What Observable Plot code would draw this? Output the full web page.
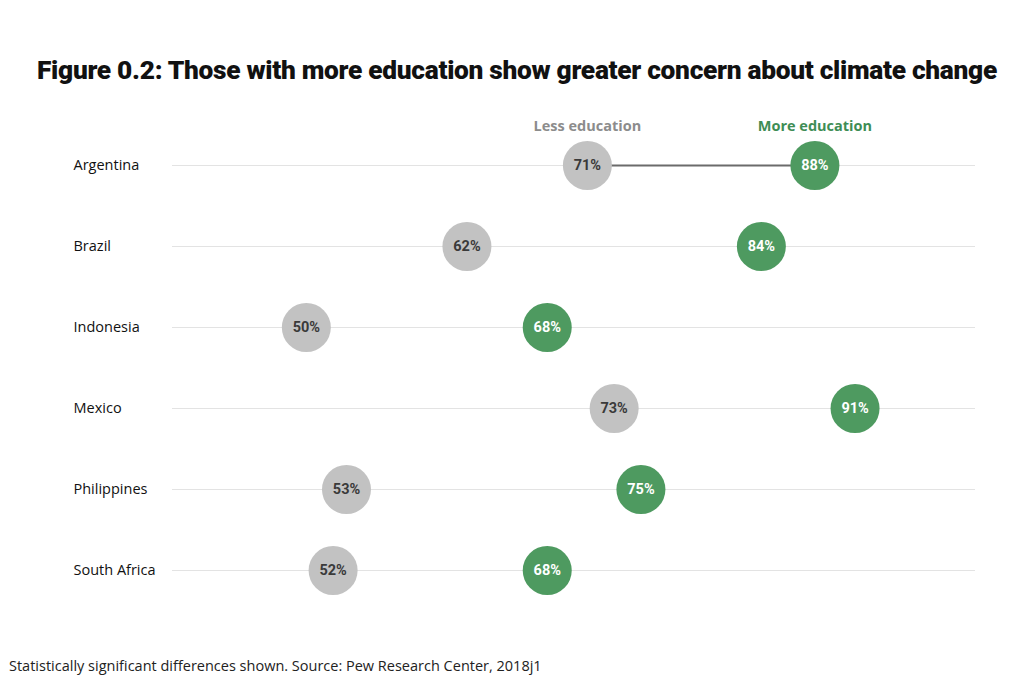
<!DOCTYPE html>
<html>
<head>
<meta charset="utf-8">
<script src="https://cdn.jsdelivr.net/npm/d3@7"></script>
<script src="https://cdn.jsdelivr.net/npm/@observablehq/plot@0.6"></script>
<style>
  html, body { margin: 0; padding: 0; background: #fff; }
  #wrap { width: 1024px; height: 690px; position: relative; overflow: hidden; }
  #title { position: absolute; left: 0; width: 1034px; top: 52px; text-align: center;
    font-family: Roboto, "DejaVu Sans", sans-serif; font-weight: 900; font-size: 26.3px;
    letter-spacing: -0.3px; color: #111; line-height: 36px; }
  #chart { position: absolute; left: 0; top: 90px; }
  #caption { position: absolute; left: 9px; top: 656px; font-family: "Open Sans", Lato, sans-serif;
    font-size: 14.5px; color: #222; }
</style>
</head>
<body>
<div id="wrap">
  <div id="title">Figure 0.2: Those with more education show greater concern about climate change</div>
  <div id="chart"></div>
  <div id="caption">Statistically significant differences shown. Source: Pew Research Center, 2018j1</div>
</div>
<script>
const countries = ["Argentina", "Brazil", "Indonesia", "Mexico", "Philippines", "South Africa"];
const lessEducation = [71, 62, 50, 73, 53, 52];
const moreEducation = [88, 84, 68, 91, 75, 68];
const seriesNames = ["Less education", "More education"];
const connectedCountries = ["Argentina"];

const rows = countries.map((c, i) => ({country: c, less: lessEducation[i], more: moreEducation[i]}));
const dots = rows.flatMap(d => [
  {country: d.country, value: d.less, series: seriesNames[0]},
  {country: d.country, value: d.more, series: seriesNames[1]}
]);
const legend = [
  {label: seriesNames[0], value: lessEducation[0]},
  {label: seriesNames[1], value: moreEducation[0]}
];
const grey = "#c2c2c2", green = "#4e9a60";

const chart = Plot.plot({
  width: 1024,
  height: 540,
  marginLeft: 73,
  marginRight: 0,
  marginTop: 0,
  marginBottom: 0,
  x: {domain: [40, 100], range: [172, 975], axis: null},
  y: {type: "point", domain: countries, range: [74, 480], padding: 0, axis: null},
  color: {domain: seriesNames, range: [grey, green]},
  marks: [
    Plot.ruleY(countries, {y: d => d, x1: 40, x2: 100, stroke: "#e3e3e3", strokeWidth: 1.2}),
    Plot.link(rows.filter(d => connectedCountries.includes(d.country)), {
      x1: "less", x2: "more", y1: "country", y2: "country", stroke: "#6b6b6b", strokeWidth: 2
    }),
    Plot.dot(dots, {x: "value", y: "country", r: 24.5, fill: "series", stroke: null}),
    Plot.text(dots, {
      x: "value", y: "country", text: d => d.value + "%",
      fill: d => d.series === seriesNames[0] ? "#3a3a3a" : "#ffffff",
      fontSize: 14.5, fontWeight: "bold", fontFamily: "Roboto, sans-serif"
    }),
    Plot.text(countries, {
      y: d => d, text: d => d, frameAnchor: "left", textAnchor: "start",
      fontSize: 14.5, fill: "#111", fontFamily: "'Open Sans', sans-serif"
    }),
    Plot.text(legend, {
      x: "value", text: "label", frameAnchor: "top", dy: 30,
      fill: d => d.label === seriesNames[0] ? "#8c8c8c" : "#3e8d55",
      fontSize: 14.5, fontWeight: "bold", fontFamily: "'Open Sans', sans-serif"
    })
  ]
});
document.getElementById("chart").appendChild(chart);
</script>
</body>
</html>
